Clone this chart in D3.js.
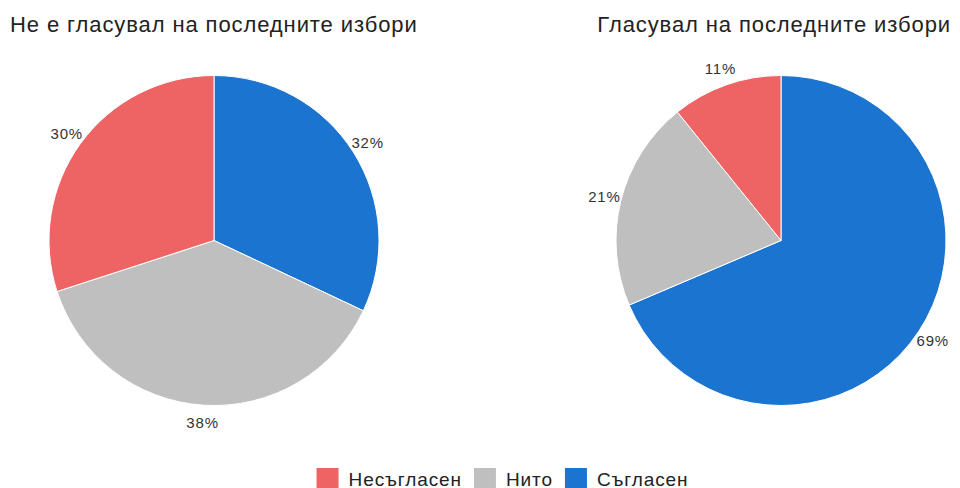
<!DOCTYPE html>
<html>
<head>
<meta charset="utf-8">
<script src="https://cdn.jsdelivr.net/npm/d3@7"></script>
<style>
  body { margin: 0; background: #fff; }
  svg { display: block; font-family: "Liberation Sans", Arial, sans-serif; }
</style>
</head>
<body>
<div id="chart"></div>
<script>
// Data
const categories = ["Съгласен", "Нито", "Несъгласен"];
const colors = ["#1b74cf", "#bfbfbf", "#ee6363"];
const titles = ["Не е гласувал на последните избори", "Гласувал на последните избори"];
const notVoted = [32, 38, 30];
const voted = [68.6, 20.6, 10.8];
const labelsNotVoted = ["32%", "38%", "30%"];
const labelsVoted = ["69%", "21%", "11%"];
const legendOrder = ["Несъгласен", "Нито", "Съгласен"];

const width = 960, height = 488;
const radius = 165;

const svg = d3.select("#chart")
  .append("svg")
  .attr("width", width)
  .attr("height", height);

const color = d3.scaleOrdinal().domain(categories).range(colors);

const pie = d3.pie().sort(null);
const arc = d3.arc().innerRadius(0).outerRadius(radius);
const labelArc = d3.arc().innerRadius(182).outerRadius(182);

const pies = [
  { title: titles[0], values: notVoted, labels: labelsNotVoted, cx: 214, titleX: 10, anchor: "start" },
  { title: titles[1], values: voted, labels: labelsVoted, cx: 781, titleX: 951, anchor: "end" }
];

pies.forEach(p => {
  svg.append("text")
    .attr("x", p.titleX)
    .attr("y", 31.5)
    .attr("text-anchor", p.anchor)
    .style("font-size", "22px")
    .style("letter-spacing", "0.9px")
    .style("fill", "#222")
    .text(p.title);

  const g = svg.append("g")
    .attr("transform", `translate(${p.cx},240.5)`);

  const arcs = pie(p.values);

  g.selectAll("path")
    .data(arcs)
    .enter()
    .append("path")
    .attr("d", arc)
    .attr("fill", (d, i) => color(categories[i]))
    .attr("stroke", "#fff")
    .attr("stroke-width", 1);

  g.selectAll(".label")
    .data(arcs)
    .enter()
    .append("text")
    .attr("class", "label")
    .attr("transform", d => `translate(${labelArc.centroid(d)})`)
    .attr("text-anchor", "middle")
    .attr("dy", "0.36em")
    .style("font-size", "15px")
    .style("letter-spacing", "0.8px")
    .style("fill", "#333")
    .text((d, i) => p.labels[i]);
});

// Legend
const legend = svg.append("g");
let x = 0;
legendOrder.forEach(name => {
  const item = legend.append("g").attr("transform", `translate(${x},0)`);
  item.append("rect")
    .attr("x", 0)
    .attr("y", 468)
    .attr("width", 22)
    .attr("height", 22)
    .attr("fill", color(name));
  const t = item.append("text")
    .attr("x", 32)
    .attr("y", 485.5)
    .style("font-size", "19px")
    .style("letter-spacing", "0.9px")
    .style("fill", "#222")
    .text(name);
  x += 32 + t.node().getComputedTextLength() + 12;
});
const legendWidth = x - 12;
legend.attr("transform", `translate(${502.5 - legendWidth / 2},0)`);
</script>
</body>
</html>
